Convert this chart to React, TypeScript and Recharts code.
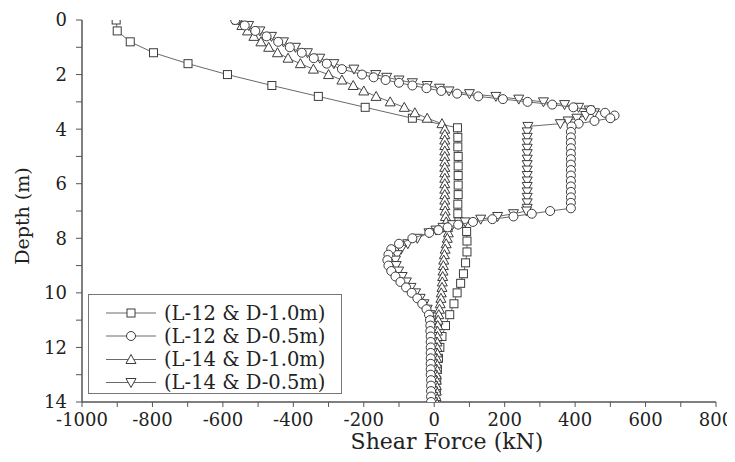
import { ScatterChart, Scatter, XAxis, YAxis, Legend } from "recharts";

// depth (m) and shear force (kN)
const sqDepth = [0, 0.4, 0.8, 1.2, 1.6, 2.0, 2.4, 2.8, 3.2, 3.6, 3.95, 4.3, 4.65, 5.0, 5.35, 5.7, 6.05, 6.4, 6.75, 7.1, 7.4, 7.75, 8.1, 8.5, 8.9, 9.3, 9.65, 10.0, 10.4, 10.8, 11.2, 11.6, 12.0, 12.4, 12.8, 13.2, 13.6, 14.0];
const sqForce = [-903, -900, -863, -797, -699, -587, -461, -329, -196, -62, 66, 67, 67, 68, 68, 68, 68, 68, 67, 67, 70, 92, 93, 93, 89, 83, 75, 65, 56, 44, 32, 22, 16, 12, 9, 7, 6, 5];

const utDepth = [0, 0.2, 0.4, 0.6, 0.8, 1.0, 1.2, 1.4, 1.6, 1.8, 2.0, 2.2, 2.4, 2.6, 2.8, 3.0, 3.2, 3.4, 3.6, 3.8, 4.0, 4.2, 4.4, 4.6, 4.8, 5.0, 5.2, 5.4, 5.6, 5.8, 6.0, 6.2, 6.4, 6.6, 6.8, 7.0, 7.2, 7.4, 7.6, 7.8, 8.0, 8.2, 8.4, 8.6, 8.8, 9.0, 9.2, 9.4, 9.6, 9.8, 10.0, 10.2, 10.4, 10.6, 10.8, 11.0, 11.2, 11.4, 11.6, 11.8, 12.0, 12.2, 12.4, 12.6, 12.8, 13.0, 13.2, 13.4, 13.6, 13.8, 14.0];
const utForce = [-560, -546, -530, -512, -492, -470, -445, -415, -380, -343, -300, -262, -230, -200, -165, -125, -85, -55, -20, 22,
  30, 30, 30, 30, 30, 30, 30, 30, 30, 30, 30, 30, 30, 30, 30, 31, 32, 34,
  38, 40, 37, 34, 31, 29, 27, 26, 25, 24, 23, 22, 20, 19, 17, 15, 13, 11, 10, 9, 9, 8, 8,
  8, 7, 7, 7, 6, 6, 6, 6, 5, 5];

const halfDepth = [0, 0.2, 0.4, 0.6, 0.8, 1.0, 1.2, 1.4, 1.6, 1.8,
  2.0, 2.1, 2.2, 2.3, 2.4, 2.5, 2.6, 2.7, 2.8, 2.9, 3.0, 3.1, 3.2, 3.3, 3.4, 3.5, 3.6, 3.7, 3.8, 3.9,
  4.1, 4.3, 4.5, 4.7, 4.9, 5.1, 5.3, 5.5, 5.7, 5.9, 6.1, 6.3, 6.5, 6.7, 6.9,
  7.0, 7.1, 7.2, 7.3, 7.4, 7.5, 7.6, 7.7, 7.8,
  8.0, 8.2, 8.4, 8.6, 8.8, 9.0, 9.2, 9.4, 9.6, 9.8, 10.0, 10.2, 10.4, 10.6, 10.8, 11.0,
  11.2, 11.4, 11.6, 11.8, 12.0, 12.2, 12.4, 12.6, 12.8, 13.0, 13.2, 13.4, 13.6, 13.8, 14.0];
const ciForce = [-565, -538, -508, -476, -443, -410, -376, -342, -305, -262,
  -205, -172, -138, -100, -62, -22, 20, 65, 125, 195, 265, 335, 395, 445, 485, 512, 500, 455, 410, 390,
  388, 388, 388, 388, 388, 388, 388, 388, 388, 388, 388, 388, 388, 388, 388,
  329, 277, 225, 165, 110, 68, 38, 12, -14,
  -62, -100, -122, -130, -133, -130, -122, -110, -96, -80, -64, -48, -34, -22, -15, -12,
  -11, -11, -10, -10, -10, -10, -10, -10, -10, -10, -9, -9, -9, -9, -9];
const dtForce = [-555, -527, -495, -462, -428, -394, -360, -325, -285, -228,
  -166, -135, -100, -62, -20, 15, 42, 100, 175, 240, 310, 370, 410, 440, 455, 430, 405, 380, 358, 266,
  264, 264, 264, 264, 264, 264, 264, 264, 264, 264, 264, 264, 264, 264, 264,
  262, 225, 180, 132, 88, 52, 25, 5, -15,
  -48, -75, -94, -105, -110, -108, -101, -91, -79, -66, -53, -40, -29, -20, -13, -9,
  -7, -6, -6, -6, -5, -5, -5, -5, -5, -5, -5, -4, -4, -4, -4];

const xTicks = [-1000, -900, -800, -700, -600, -500, -400, -300, -200, -100, 0, 100, 200, 300, 400, 500, 600, 700, 800];
const yTicks = [0, 1, 2, 3, 4, 5, 6, 7, 8, 9, 10, 11, 12, 13, 14];
const seriesNames = ["(L-12 & D-1.0m)", "(L-12 & D-0.5m)", "(L-14 & D-1.0m)", "(L-14 & D-0.5m)"];

const INK = "#3c3c3c";
const LINE = "#6a6a6a";
const AXIS = "#555";
const FONT = "DejaVu Serif";

const toPoints = (depth: number[], force: number[]) =>
  depth.map((d, i) => ({ depth: d, force: force[i] }));

const square = (cx: number, cy: number) => (
  <rect x={cx - 4} y={cy - 4} width={8} height={8} fill="#fff" stroke={INK} strokeWidth={1} />
);
const circle = (cx: number, cy: number) => (
  <circle cx={cx} cy={cy} r={4.5} fill="#fff" stroke={INK} strokeWidth={1} />
);
const triUp = (cx: number, cy: number) => (
  <polygon points={`${cx},${cy - 5} ${cx + 5},${cy + 4} ${cx - 5},${cy + 4}`} fill="#fff" stroke={INK} strokeWidth={1} />
);
const triDown = (cx: number, cy: number) => (
  <polygon points={`${cx - 5},${cy - 4} ${cx + 5},${cy - 4} ${cx},${cy + 5}`} fill="#fff" stroke={INK} strokeWidth={1} />
);
const markers = [square, circle, triUp, triDown];

const legendRows = [18, 41, 64.5, 87.5];

const LegendBox = () => (
  <div style={{ width: 254, height: 100, border: "1px solid #777", boxSizing: "border-box", background: "#fff" }}>
    <svg width={252} height={98} style={{ display: "block" }}>
      {seriesNames.map((name, i) => (
        <g key={name}>
          <line x1={17} x2={67} y1={legendRows[i]} y2={legendRows[i]} stroke={LINE} strokeWidth={1} />
          {markers[i](42, legendRows[i])}
          <text x={75} y={legendRows[i]} dominantBaseline="central" fontFamily={FONT} fontSize={19.5} fill="#222">
            {name}
          </text>
        </g>
      ))}
    </svg>
  </div>
);

const fmtX = (v: number) => (v % 200 === 0 ? String(v) : "");
const fmtY = (v: number) => (v % 2 === 0 ? String(v) : "");

const tickStyle = { fontFamily: FONT, fontSize: 18, fill: "#222" };

export default function App() {
  return (
    <ScatterChart width={727} height={445} margin={{ top: 12, right: 19, bottom: 0, left: 0 }}>
      <XAxis
        xAxisId="b"
        type="number"
        dataKey="force"
        domain={[-1000, 800]}
        allowDataOverflow
        ticks={xTicks}
        interval={0}
        tickFormatter={fmtX}
        tickSize={5}
        tickMargin={6}
        height={51}
        tick={tickStyle}
        axisLine={{ stroke: AXIS, strokeWidth: 1.5 }}
        tickLine={{ stroke: AXIS }}
        label={() => (
          <text x={439} y={433} textAnchor="middle" dominantBaseline="central" fontFamily={FONT} fontSize={22} fill="#222">
            Shear Force (kN)
          </text>
        )}
      />
      <XAxis
        xAxisId="t"
        orientation="top"
        type="number"
        domain={[-1000, 800]}
        allowDataOverflow
        ticks={xTicks}
        interval={0}
        height={0}
        mirror
        tick={false}
        tickSize={5}
        axisLine={{ stroke: AXIS, strokeWidth: 1.5 }}
        tickLine={{ stroke: AXIS }}
      />
      <YAxis
        yAxisId="l"
        type="number"
        dataKey="depth"
        domain={[0, 14]}
        allowDataOverflow
        reversed
        ticks={yTicks}
        interval={0}
        tickFormatter={fmtY}
        tickSize={6}
        tickMargin={9}
        width={74}
        tick={tickStyle}
        axisLine={{ stroke: AXIS, strokeWidth: 1.5 }}
        tickLine={{ stroke: AXIS }}
        label={() => (
          <text
            transform="translate(14, 208) rotate(-90)"
            textAnchor="middle"
            dominantBaseline="central"
            fontFamily={FONT}
            fontSize={19}
            fill="#222"
          >
            Depth (m)
          </text>
        )}
      />
      <YAxis
        yAxisId="r"
        orientation="right"
        type="number"
        domain={[0, 14]}
        allowDataOverflow
        reversed
        ticks={yTicks}
        interval={0}
        width={0}
        mirror
        tick={false}
        tickSize={6}
        axisLine={{ stroke: AXIS, strokeWidth: 1.5 }}
        tickLine={{ stroke: AXIS }}
      />
      <Legend
        layout="vertical"
        align="center"
        verticalAlign="middle"
        content={() => <LegendBox />}
        wrapperStyle={{ left: 80, top: 286, width: 254, height: 100 }}
      />
      <Scatter
        name={seriesNames[0]}
        xAxisId="b"
        yAxisId="l"
        data={toPoints(sqDepth, sqForce)}
        line={{ stroke: LINE, strokeWidth: 1 }}
        shape={(p: any) => square(p.cx, p.cy)}
        isAnimationActive={false}
      />
      <Scatter
        name={seriesNames[2]}
        xAxisId="b"
        yAxisId="l"
        data={toPoints(utDepth, utForce)}
        line={{ stroke: LINE, strokeWidth: 1 }}
        shape={(p: any) => triUp(p.cx, p.cy)}
        isAnimationActive={false}
      />
      <Scatter
        name={seriesNames[3]}
        xAxisId="b"
        yAxisId="l"
        data={toPoints(halfDepth, dtForce)}
        line={{ stroke: LINE, strokeWidth: 1 }}
        shape={(p: any) => triDown(p.cx, p.cy)}
        isAnimationActive={false}
      />
      <Scatter
        name={seriesNames[1]}
        xAxisId="b"
        yAxisId="l"
        data={toPoints(halfDepth, ciForce)}
        line={{ stroke: LINE, strokeWidth: 1 }}
        shape={(p: any) => circle(p.cx, p.cy)}
        isAnimationActive={false}
      />
    </ScatterChart>
  );
}
